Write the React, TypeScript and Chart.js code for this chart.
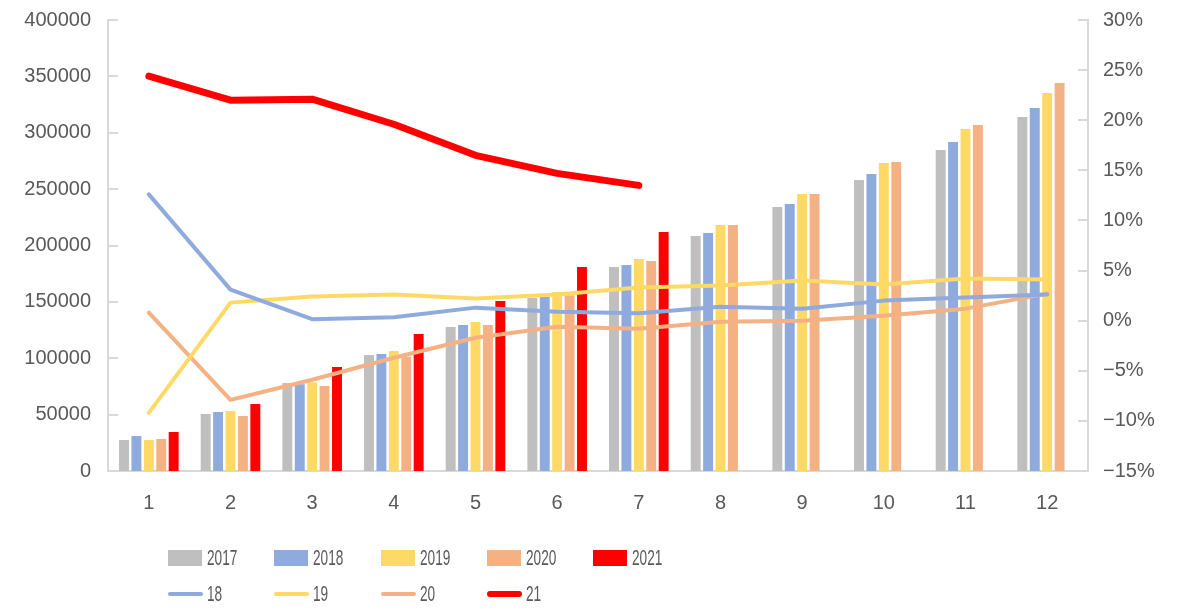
import React, { useEffect, useRef } from "react";
import { Chart, registerables } from "chart.js";

Chart.register(...registerables);

const months = ["1", "2", "3", "4", "5", "6", "7", "8", "9", "10", "11", "12"];
const leftTicks = [0, 50000, 100000, 150000, 200000, 250000, 300000, 350000, 400000];
const rightTicks = [-15, -10, -5, 0, 5, 10, 15, 20, 25, 30];

const bar2017 = [27500, 50600, 78000, 102900, 127700, 153400, 180900, 208400, 234100, 258100, 284700, 314000];
const bar2018 = [31000, 52300, 77000, 103800, 129500, 154600, 182700, 211100, 236800, 263400, 291800, 322000];
const bar2019 = [27500, 53200, 78800, 106400, 132200, 158700, 188000, 218200, 245700, 273200, 303300, 335300];
const bar2020 = [28400, 48800, 75400, 101400, 129500, 155800, 186300, 218200, 245700, 274000, 306900, 344100];
const bar2021 = [34600, 59400, 92200, 121500, 150800, 180900, 212000, null, null, null, null, null];

const growth18 = [12.6, 3.1, 0.15, 0.35, 1.3, 0.9, 0.75, 1.4, 1.2, 2.0, 2.3, 2.6];
const growth19 = [-9.2, 1.8, 2.4, 2.6, 2.2, 2.6, 3.3, 3.5, 4.0, 3.6, 4.2, 4.1];
const growth20 = [0.8, -7.9, -5.9, -3.7, -1.7, -0.6, -0.8, -0.1, 0.0, 0.5, 1.2, 2.7];
const growth21 = [24.4, 22.0, 22.1, 19.6, 16.5, 14.7, 13.5, null, null, null, null, null];

const GRAY = "#BFBFBF";
const BLUE = "#8FAADC";
const YELLOW = "#FFD966";
const ORANGE = "#F4B183";
const RED = "#FF0000";
const AXIS = "#D9D9D9";
const TEXT = "#595959";

const barLegend = [
  { label: "2017", color: GRAY },
  { label: "2018", color: BLUE },
  { label: "2019", color: YELLOW },
  { label: "2020", color: ORANGE },
  { label: "2021", color: RED },
];
const lineLegend = [
  { label: "18", color: BLUE, w: 4 },
  { label: "19", color: YELLOW, w: 4 },
  { label: "20", color: ORANGE, w: 4 },
  { label: "21", color: RED, w: 6 },
];

const insideTicks = {
  id: "insideTicks",
  afterDraw(chart: any) {
    const ctx = chart.ctx;
    const { left, right } = chart.chartArea;
    ctx.save();
    ctx.strokeStyle = AXIS;
    ctx.lineWidth = 2;
    const y = chart.scales.y;
    y.ticks.forEach((_: any, i: number) => {
      const py = Math.round(y.getPixelForTick(i));
      ctx.beginPath();
      ctx.moveTo(left, py);
      ctx.lineTo(left + 10, py);
      ctx.stroke();
    });
    const y1 = chart.scales.y1;
    y1.ticks.forEach((_: any, i: number) => {
      const py = Math.round(y1.getPixelForTick(i));
      ctx.beginPath();
      ctx.moveTo(right - 10, py);
      ctx.lineTo(right, py);
      ctx.stroke();
    });
    ctx.restore();
  },
};

export default function App() {
  const ref = useRef<HTMLCanvasElement | null>(null);

  useEffect(() => {
    document.body.style.margin = "0";
    if (!ref.current) return;
    const tickFont = { family: "'Liberation Sans', Arial, sans-serif", size: 20 };
    const lineDs = (label: string, data: any[], color: string, width: number) => ({
      type: "line" as const,
      label,
      data,
      yAxisID: "y1",
      borderColor: color,
      backgroundColor: color,
      borderWidth: width,
      pointRadius: 0,
      borderCapStyle: "round" as const,
      borderJoinStyle: "round" as const,
      tension: 0,
      spanGaps: false,
      order: 1,
    });
    const barDs = (label: string, data: any[], color: string) => ({
      type: "bar" as const,
      label,
      data,
      yAxisID: "y",
      backgroundColor: color,
      borderWidth: 0,
      categoryPercentage: 0.76,
      barPercentage: 0.8,
      order: 2,
    });
    const vFit = (w: number) => (s: any) => {
      s.width = w;
      s.paddingTop = 4;
      s.paddingBottom = 4;
    };
    const chart = new Chart(ref.current, {
      data: {
        labels: months,
        datasets: [
          barDs("2017", bar2017, GRAY),
          barDs("2018", bar2018, BLUE),
          barDs("2019", bar2019, YELLOW),
          barDs("2020", bar2020, ORANGE),
          barDs("2021", bar2021, RED),
          lineDs("18", growth18, BLUE, 4),
          lineDs("19", growth19, YELLOW, 4),
          lineDs("20", growth20, ORANGE, 4),
          lineDs("21", growth21, RED, 7),
        ],
      } as any,
      options: {
        animation: false,
        responsive: true,
        maintainAspectRatio: false,
        layout: { padding: { top: 20, left: 0, right: 0, bottom: 0 } },
        plugins: { legend: { display: false }, tooltip: { enabled: false } },
        scales: {
          x: {
            grid: { display: false, drawTicks: false },
            border: { display: true, color: AXIS, width: 2 },
            ticks: { color: TEXT, font: tickFont, padding: 20, maxRotation: 0 },
            afterFit: (s: any) => {
              s.height = 139;
            },
          },
          y: {
            position: "left",
            min: 0,
            max: 400000,
            grid: { display: false, drawTicks: false },
            border: { display: true, color: AXIS, width: 2 },
            afterBuildTicks: (s: any) => {
              s.ticks = leftTicks.map((v) => ({ value: v }));
            },
            ticks: { color: TEXT, font: tickFont, padding: 17, callback: (v: any) => String(v) },
            afterFit: vFit(108),
          },
          y1: {
            position: "right",
            min: -15,
            max: 30,
            grid: { display: false, drawTicks: false },
            border: { display: true, color: AXIS, width: 2 },
            afterBuildTicks: (s: any) => {
              s.ticks = rightTicks.map((v) => ({ value: v }));
            },
            ticks: {
              color: TEXT,
              font: tickFont,
              padding: 15,
              callback: (v: any) => (v < 0 ? "\u2212" + Math.abs(v) : String(v)) + "%",
            },
            afterFit: vFit(93),
          },
        },
      } as any,
      plugins: [insideTicks],
    });
    return () => chart.destroy();
  }, []);

  const legendFont = "'Liberation Sans', Arial, sans-serif";
  const colX = (i: number) => 168 + i * 106.3;
  const textStyle: React.CSSProperties = {
    display: "inline-block",
    transform: "scaleX(0.62)",
    transformOrigin: "left center",
    fontFamily: legendFont,
    fontSize: 22,
    color: TEXT,
    lineHeight: "26px",
  };

  return (
    <div style={{ position: "relative", width: 1181, height: 610, overflow: "hidden" }}>
      <canvas ref={ref} style={{ position: "absolute", left: 0, top: 0, width: 1181, height: 610 }} />
      {barLegend.map((it, i) => (
        <div
          key={it.label}
          style={{ position: "absolute", left: colX(i), top: 545, height: 26, display: "flex", alignItems: "center" }}
        >
          <span style={{ display: "inline-block", width: 34, height: 16, background: it.color, marginRight: 5 }} />
          <span style={textStyle}>{it.label}</span>
        </div>
      ))}
      {lineLegend.map((it, i) => (
        <div
          key={it.label}
          style={{ position: "absolute", left: colX(i), top: 581, height: 26, display: "flex", alignItems: "center" }}
        >
          <span
            style={{
              display: "inline-block",
              width: 35,
              height: it.w,
              borderRadius: it.w / 2,
              background: it.color,
              marginRight: 4,
            }}
          />
          <span style={textStyle}>{it.label}</span>
        </div>
      ))}
    </div>
  );
}
